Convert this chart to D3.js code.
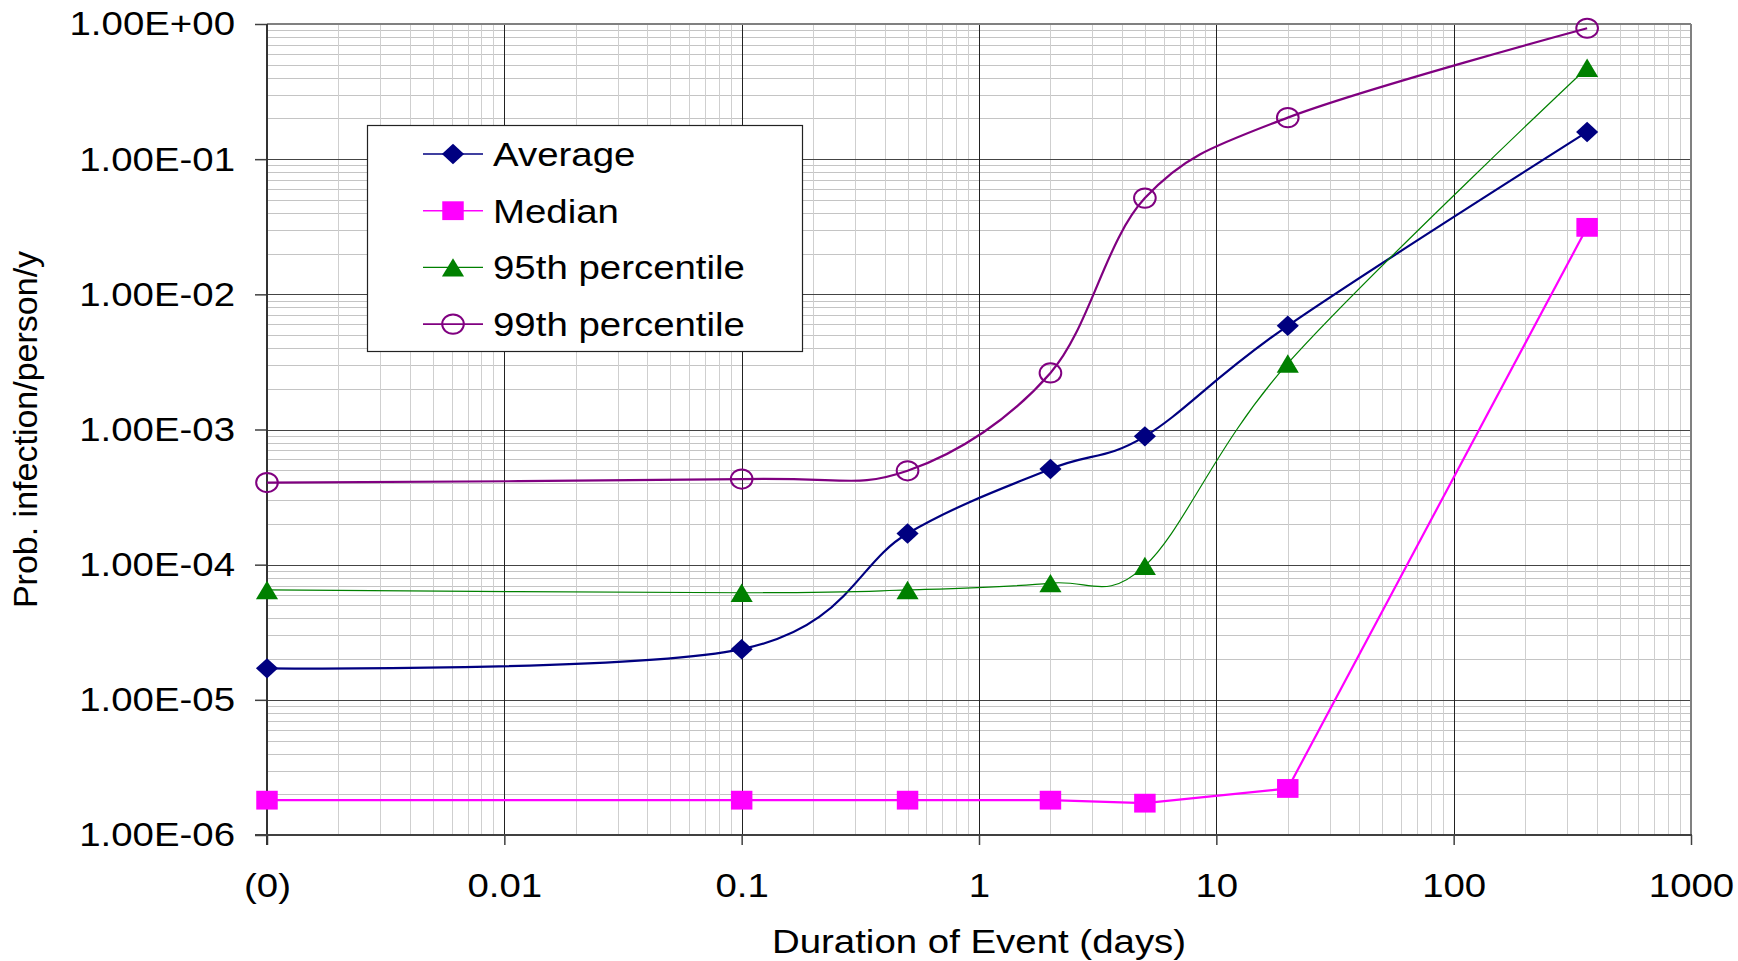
<!DOCTYPE html>
<html>
<head>
<meta charset="utf-8">
<script src="https://cdn.jsdelivr.net/npm/d3@7"></script>
<style>
  body { margin: 0; background: #fff; }
  svg { display: block; font-family: "Liberation Sans", Arial, sans-serif; }
</style>
</head>
<body>
<div id="container"></div>
<script>
// duration of event (days); 0.001 stands for the "(0)" position
var durations = [0.001, 0.1, 0.5, 2, 5, 20, 365];
var average = [1.71e-5, 2.37e-5, 1.70e-4, 5.1e-4, 8.9e-4, 5.85e-3, 0.159];
var median = [1.81e-6, 1.81e-6, 1.81e-6, 1.81e-6, 1.72e-6, 2.21e-6, 3.13e-2];
var pct95 = [6.5e-5, 6.2e-5, 6.5e-5, 7.3e-5, 9.8e-5, 3.08e-3, 0.475];
var pct99 = [4.05e-4, 4.3e-4, 4.95e-4, 2.62e-3, 5.15e-2, 0.203, 0.93];

var seriesNames = ["Average", "Median", "95th percentile", "99th percentile"];

var xTickValues = [0.001, 0.01, 0.1, 1, 10, 100, 1000];
var xTickLabels = ["(0)", "0.01", "0.1", "1", "10", "100", "1000"];
var yTickValues = [1, 1e-1, 1e-2, 1e-3, 1e-4, 1e-5, 1e-6];
var yTickLabels = ["1.00E+00", "1.00E-01", "1.00E-02", "1.00E-03", "1.00E-04", "1.00E-05", "1.00E-06"];

var width = 1738, height = 961;
var margin = {top: 24, right: 47, bottom: 126, left: 267};
var innerW = width - margin.left - margin.right;
var innerH = height - margin.top - margin.bottom;
var SX = 1.13; // the original picture is a bit wider than tall

var svg = d3.select("#container")
  .append("svg")
  .attr("width", width)
  .attr("height", height);

var g = svg.append("g")
  .attr("transform", "translate(" + margin.left + "," + margin.top + ")");

var x = d3.scaleLog().domain([0.001, 1000]).range([0, innerW]);
var y = d3.scaleLog().domain([1e-6, 1]).range([innerH, 0]);

function isMajor(v) {
  var l = Math.log10(v);
  return Math.abs(l - Math.round(l)) < 1e-9;
}

// minor grid
var xMinor = x.ticks().filter(function(v) { return !isMajor(v); });
var yMinor = y.ticks().filter(function(v) { return !isMajor(v); });

g.selectAll(".hminor")
  .data(yMinor)
  .enter()
  .append("line")
  .attr("x1", 0).attr("x2", innerW)
  .attr("y1", d => Math.round(y(d)) + 0.5).attr("y2", d => Math.round(y(d)) + 0.5)
  .attr("stroke", "#c4c4c4").attr("stroke-width", 1);

g.selectAll(".vminor")
  .data(xMinor)
  .enter()
  .append("line")
  .attr("y1", 0).attr("y2", innerH)
  .attr("x1", d => Math.round(x(d)) + 0.5).attr("x2", d => Math.round(x(d)) + 0.5)
  .attr("stroke", "#cfcfcf").attr("stroke-width", 1);

// major grid
g.selectAll(".hmajor")
  .data(yTickValues)
  .enter()
  .append("line")
  .attr("x1", 0).attr("x2", innerW)
  .attr("y1", d => Math.round(y(d)) + 0.5).attr("y2", d => Math.round(y(d)) + 0.5)
  .attr("stroke", "#444").attr("stroke-width", 1);

g.selectAll(".vmajor")
  .data(xTickValues)
  .enter()
  .append("line")
  .attr("y1", 0).attr("y2", innerH)
  .attr("x1", d => Math.round(x(d)) + 0.5).attr("x2", d => Math.round(x(d)) + 0.5)
  .attr("stroke", "#222").attr("stroke-width", 1);

// plot border
g.append("line").attr("x1", 0).attr("x2", innerW).attr("y1", 0).attr("y2", 0)
  .attr("stroke", "#808080").attr("stroke-width", 2);
g.append("line").attr("x1", innerW).attr("x2", innerW).attr("y1", 0).attr("y2", innerH)
  .attr("stroke", "#808080").attr("stroke-width", 2);

// axes
var yAxis = d3.axisLeft(y)
  .tickValues(yTickValues)
  .tickFormat(d => yTickLabels[yTickValues.indexOf(d)])
  .tickSizeInner(12).tickSizeOuter(0)
  .tickPadding(32 / SX - 12);

var xAxis = d3.axisBottom(x)
  .tickValues(xTickValues)
  .tickFormat(d => xTickLabels[xTickValues.indexOf(d)])
  .tickSizeInner(10).tickSizeOuter(0)
  .tickPadding(28);

var gy = g.append("g").call(yAxis);
var gx = g.append("g").attr("transform", "translate(0," + innerH + ")").call(xAxis);

[gx, gy].forEach(function(ax) {
  ax.select(".domain").remove();
  ax.selectAll(".tick line").attr("stroke", "#404040").attr("stroke-width", 1.5);
  ax.selectAll(".tick text")
    .attr("fill", "#000")
    .style("font-size", "34px")
    .attr("transform", "scale(" + SX + ",1)");
  ax.attr("font-family", null).attr("font-size", null);
});

g.append("line").attr("x1", 0).attr("x2", 0).attr("y1", 0).attr("y2", innerH + 10)
  .attr("stroke", "#333").attr("stroke-width", 2);
g.append("line").attr("x1", -12).attr("x2", innerW + 1).attr("y1", innerH).attr("y2", innerH)
  .attr("stroke", "#404040").attr("stroke-width", 2);

// axis titles
svg.append("text")
  .attr("transform", "translate(" + (margin.left + innerW / 2) + ",953) scale(" + SX + ",1)")
  .attr("text-anchor", "middle")
  .style("font-size", "34px")
  .text("Duration of Event (days)");

svg.append("text")
  .attr("transform", "translate(37," + (margin.top + innerH / 2) + ") rotate(-90)")
  .attr("text-anchor", "middle")
  .style("font-size", "34px")
  .text("Prob. infection/person/y");

// markers
function drawMarker(sel, type, color) {
  if (type === "diamond") {
    sel.append("path").attr("d", "M0,-10.2L9.8,0L0,10.2L-9.8,0Z").attr("fill", color);
  } else if (type === "square") {
    sel.append("rect").attr("x", -9.5).attr("y", -9.4).attr("width", 19).attr("height", 18.8).attr("fill", color);
  } else if (type === "triangle") {
    sel.append("path").attr("d", "M0,-9.2L9.8,9.2L-9.8,9.2Z").attr("fill", color);
  } else {
    sel.append("circle").attr("r", 9.6).attr("fill", "none")
      .attr("stroke", color).attr("stroke-width", 2)
      .attr("vector-effect", "non-scaling-stroke");
  }
}

var series = [
  {name: seriesNames[0], values: average, color: "#000080", marker: "diamond", lw: 2.2, smooth: true},
  {name: seriesNames[1], values: median, color: "#ff00ff", marker: "square", lw: 2.2, smooth: false},
  {name: seriesNames[2], values: pct95, color: "#008000", marker: "triangle", lw: 1.2, smooth: true},
  {name: seriesNames[3], values: pct99, color: "#800080", marker: "circle", lw: 2.2, smooth: true}
];

series.forEach(function(s) {
  var pts = durations.map((d, i) => [d, s.values[i]]);
  var line = d3.line()
    .x(d => x(d[0]))
    .y(d => y(d[1]))
    .curve(s.smooth ? d3.curveCardinal.tension(0) : d3.curveLinear);

  g.append("path")
    .datum(pts)
    .attr("d", line)
    .attr("fill", "none")
    .attr("stroke", s.color)
    .attr("stroke-width", s.lw);

  g.selectAll(null)
    .data(pts)
    .enter()
    .append("g")
    .attr("transform", d => "translate(" + x(d[0]) + "," + y(d[1]) + ") scale(" + SX + ",1)")
    .each(function() { drawMarker(d3.select(this), s.marker, s.color); });
});

// legend
var legend = svg.append("g").attr("transform", "translate(367,125)");
legend.append("rect")
  .attr("x", 0.5).attr("y", 0.5)
  .attr("width", 435).attr("height", 226)
  .attr("fill", "#fff")
  .attr("stroke", "#222").attr("stroke-width", 1.2);

series.forEach(function(s, i) {
  var row = legend.append("g").attr("transform", "translate(0," + (29 + i * 56.7) + ")");
  row.append("line")
    .attr("x1", 56).attr("x2", 116)
    .attr("stroke", s.color).attr("stroke-width", s.marker === "triangle" ? 1.2 : 1.6);
  var m = row.append("g").attr("transform", "translate(86,0) scale(" + SX + ",1)");
  drawMarker(m, s.marker, s.color);
  row.append("text")
    .attr("transform", "translate(126,0) scale(" + SX + ",1)")
    .attr("dy", "0.35em")
    .style("font-size", "34px")
    .text(s.name);
});
</script>
</body>
</html>
